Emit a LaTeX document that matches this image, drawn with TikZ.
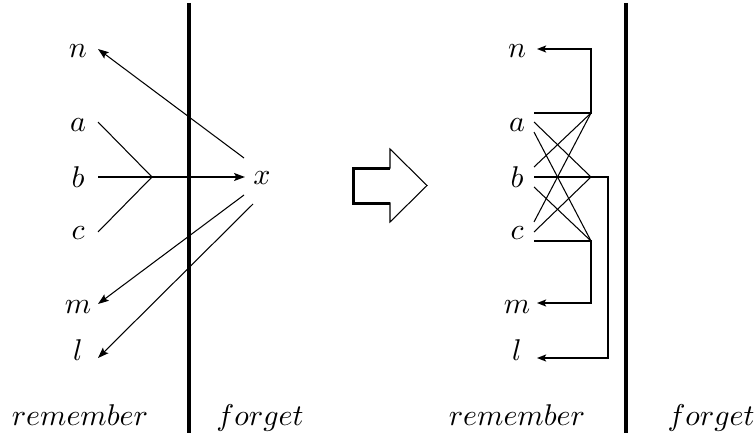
\documentclass[tikz,border=0pt]{standalone}
\usetikzlibrary{arrows.meta}
\begin{document}
\begin{tikzpicture}[x=0.3333pt,y=-0.3333pt,
  lbl/.style={inner sep=0pt},
  fine/.style={line width=0.35pt},
  med/.style={line width=0.6pt},
  bold/.style={line width=0.8pt},
  heavy/.style={line width=1.35pt},
  tipL/.style={-{Stealth[length=3.6pt,width=2.6pt,inset=0.7pt]}},
  tipR/.style={-{Stealth[length=3pt,width=2.3pt,inset=0.6pt]}},
]
\useasboundingbox (0,0) rectangle (756,434);

% ---------- left panel ----------
\node[lbl] (Ln) at (78,51)  {$n$};
\node[lbl] (La) at (78,125) {$a$};
\node[lbl] (Lb) at (78,177) {$b$};
\node[lbl] (Lc) at (78,233) {$c$};
\node[lbl] (Lm) at (78,307) {$m$};
\node[lbl] (Ll) at (78,350) {$l$};
\node[lbl] (Lx) at (262,178) {$x$};

\coordinate (La1) at (98,122);
\coordinate (Lb1) at (98,177);
\coordinate (Lc1) at (98,232);
\coordinate (LJ)  at (152,177);
\coordinate (Lxin) at (245,177);
\coordinate (Lx1) at (244,158);
\coordinate (Lx2) at (244,195);
\coordinate (Lx3) at (253,204);
\coordinate (Ln1) at (98,49);
\coordinate (Lm1) at (98,304);
\coordinate (Ll1) at (98,358);

\draw[fine] (La1) -- (LJ);
\draw[fine] (Lc1) -- (LJ);
\draw[med,tipL] (Lb1) -- (LJ) -- (Lxin);
\draw[fine,tipL] (Lx1) -- (Ln1);
\draw[fine,tipL] (Lx2) -- (Lm1);
\draw[fine,tipL] (Lx3) -- (Ll1);

\draw[heavy] (189,3) -- (189,433);
\node[lbl,anchor=base] (Lrem) at (80,425) {$remember$};
\node[lbl,anchor=base] (Lfor) at (260,425) {$forget$};

% ---------- big arrow ----------
\draw[fine] (353,168) -- (390,168) -- (390,149) -- (427,185.5) -- (390,222) -- (390,203) -- (353,203) -- cycle;
\draw[line width=1pt] (390,168) -- (353,168) -- (353,203) -- (390,203);

% ---------- right panel ----------
\node[lbl] (Rn) at (517,51)  {$n$};
\node[lbl] (Ra) at (517,125) {$a$};
\node[lbl] (Rb) at (517,177) {$b$};
\node[lbl] (Rc) at (517,233) {$c$};
\node[lbl] (Rm) at (517,307) {$m$};
\node[lbl] (Rl) at (517,350) {$l$};

\coordinate (HA) at (591,113);
\coordinate (HB) at (591,177);
\coordinate (HC) at (591,241);

\draw[bold,tipR] (534,113) -- (HA) -- (591,49) -- (537,49);
\draw[bold,tipR] (534,241) -- (HC) -- (591,303) -- (537,303);
\draw[med,tipR] (534,177) -- (HB) -- (608,177) -- (608,358) -- (537,358);

\draw[fine] (534,122) -- (HB);
\draw[fine] (534,132) -- (HC);
\draw[fine] (534,167) -- (HA);
\draw[fine] (534,187) -- (HC);
\draw[fine] (534,222) -- (HA);
\draw[fine] (534,232) -- (HB);

\draw[heavy] (626,3) -- (626,433);
\node[lbl,anchor=base] (Rrem) at (517,425) {$remember$};
\node[lbl,anchor=base] (Rfor) at (711,425) {$forget$};
\end{tikzpicture}
\end{document}
